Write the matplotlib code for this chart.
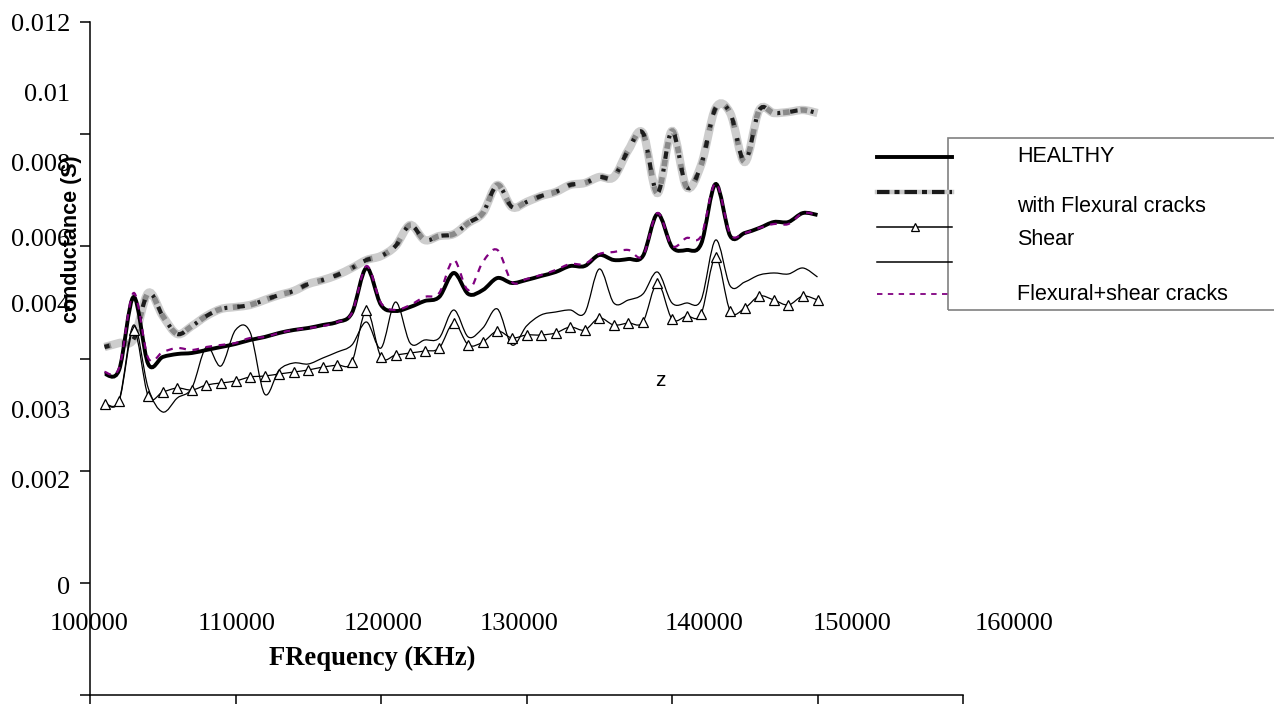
import numpy as np
import matplotlib
matplotlib.use("Agg")
import matplotlib.pyplot as plt
from matplotlib.path import Path
from matplotlib.patches import PathPatch, Rectangle
from matplotlib.lines import Line2D

# frequency samples (Hz), one every 1 kHz
freq = np.arange(101000, 150001, 1000)

healthy = [0.005724, 0.005795, 0.007097, 0.005902, 0.006027, 0.006080, 0.006098, 0.006152, 0.006205, 0.006259,
           0.006330, 0.006383, 0.006455, 0.006508, 0.006544, 0.006597, 0.006651, 0.006811, 0.007614, 0.006954,
           0.006847, 0.006918, 0.007025, 0.007097, 0.007525, 0.007150, 0.007221, 0.007435, 0.007346, 0.007400,
           0.007471, 0.007542, 0.007649, 0.007649, 0.007845, 0.007756, 0.007774, 0.007828, 0.008577, 0.007988,
           0.007935, 0.008042, 0.009111, 0.008184, 0.008238, 0.008327, 0.008434, 0.008434, 0.008594, 0.008559]

flexural = [0.006205, 0.006276, 0.006348, 0.007168, 0.006758, 0.006437, 0.006579, 0.006758, 0.006883, 0.006918,
            0.006954, 0.007043, 0.007132, 0.007204, 0.007328, 0.007400, 0.007489, 0.007614, 0.007756, 0.007828,
            0.008006, 0.008380, 0.008113, 0.008184, 0.008220, 0.008416, 0.008594, 0.009094, 0.008701, 0.008790,
            0.008897, 0.008969, 0.009094, 0.009129, 0.009236, 0.009236, 0.009718, 0.010021, 0.008951, 0.010056,
            0.009058, 0.009450, 0.010467, 0.010377, 0.009504, 0.010431, 0.010377, 0.010395, 0.010431, 0.010377]

tri = [0.005189, 0.005242, 0.006508, 0.005331, 0.005403, 0.005474, 0.005438, 0.005527, 0.005563, 0.005599,
       0.005670, 0.005688, 0.005724, 0.005759, 0.005795, 0.005848, 0.005884, 0.005938, 0.006865, 0.006027,
       0.006062, 0.006098, 0.006134, 0.006187, 0.006633, 0.006241, 0.006294, 0.006490, 0.006366, 0.006419,
       0.006419, 0.006455, 0.006562, 0.006508, 0.006722, 0.006597, 0.006633, 0.006651, 0.007346, 0.006704,
       0.006758, 0.006793, 0.007810, 0.006847, 0.006900, 0.007114, 0.007043, 0.006954, 0.007114, 0.007043]

shear = [0.005207, 0.005260, 0.006597, 0.005474, 0.005046, 0.005296, 0.005474, 0.006205, 0.005866, 0.006508,
         0.006472, 0.005367, 0.005795, 0.005920, 0.005902, 0.006009, 0.006116, 0.006241, 0.006651, 0.006187,
         0.007007, 0.006276, 0.006330, 0.006366, 0.006865, 0.006383, 0.006544, 0.006883, 0.006241, 0.006579,
         0.006776, 0.006829, 0.006865, 0.006811, 0.007596, 0.006990, 0.007043, 0.007150, 0.007542, 0.006990,
         0.006990, 0.007043, 0.008113, 0.007293, 0.007364, 0.007489, 0.007525, 0.007507, 0.007614, 0.007453]

flex_shear = [0.005759, 0.005831, 0.007168, 0.006009, 0.006116, 0.006187, 0.006152, 0.006205, 0.006241, 0.006276,
              0.006366, 0.006383, 0.006455, 0.006508, 0.006544, 0.006579, 0.006651, 0.006811, 0.007649, 0.006990,
              0.006865, 0.006954, 0.007097, 0.007168, 0.007756, 0.007221, 0.007721, 0.007935, 0.007364, 0.007418,
              0.007489, 0.007578, 0.007685, 0.007685, 0.007863, 0.007899, 0.007935, 0.007828, 0.008594, 0.008006,
              0.008149, 0.008184, 0.009129, 0.008220, 0.008238, 0.008327, 0.008398, 0.008398, 0.008594, 0.008559]

ytick_labels = ["0.012", "0.01", "0.008", "0.006", "0.004", "0.003", "0.002", "0"]
xtick_labels = ["100000", "110000", "120000", "130000", "140000", "150000", "160000"]
legend_labels = ["HEALTHY", "with Flexural cracks", "Shear", "Flexural+shear cracks"]

W, H = 1274, 704


def fx(px):
    return px / W


def fy(py):
    return 1 - py / H


def smooth_path(x, y):
    # Excel-like smoothed line drawn as cubic Bezier segments
    x = np.asarray(x, float)
    y = np.asarray(y, float)
    n = len(x)
    verts = [(x[0], y[0])]
    codes = [Path.MOVETO]
    for i in range(n - 1):
        a = i - 1 if i > 0 else i
        b = i + 2 if i + 2 < n else i + 1
        c1 = (x[i] + (x[i + 1] - x[a]) / 6, y[i] + (y[i + 1] - y[a]) / 6)
        c2 = (x[i + 1] - (x[b] - x[i]) / 6, y[i + 1] - (y[b] - y[i]) / 6)
        verts += [c1, c2, (x[i + 1], y[i + 1])]
        codes += [Path.CURVE4] * 3
    return Path(verts, codes)


def add_curve(ax, y, **kw):
    ax.add_patch(PathPatch(smooth_path(freq, y), facecolor="none", **kw))


fig = plt.figure(figsize=(W / 100, H / 100), dpi=100)
ax = fig.add_axes([fx(90), fy(695), (963 - 90) / W, (695 - 22) / H])
ax.set_xlim(100000, 160000)
ax.set_ylim(0, 0.012)
ax.set_xticks(np.arange(100000, 160001, 10000))
ax.set_yticks(np.arange(0, 0.0121, 0.002))
ax.tick_params(direction="out", length=7.5, width=1.1, labelleft=False, labelbottom=False)
for s in ["top", "right"]:
    ax.spines[s].set_visible(False)
for s in ["left", "bottom"]:
    ax.spines[s].set_linewidth(1.1)

# with Flexural cracks: blurred gray / black dash-dot band
add_curve(ax, flexural, edgecolor="#cdcdcd", lw=6, capstyle="butt")
add_curve(ax, flexural, edgecolor="#8a8a8a", lw=4, linestyle=(0, (1.2, 2.0)), capstyle="butt")
add_curve(ax, flexural, edgecolor="#1e1e1e", lw=3, linestyle=(0.6, (1.8, 3.2, 0.7, 2.4)), capstyle="butt")
# thin shear line
add_curve(ax, shear, edgecolor="black", lw=0.9)
# triangle line
add_curve(ax, tri, edgecolor="black", lw=0.9)
ax.plot(freq, tri, linestyle="none", marker="^", ms=7, mfc="white", mec="black", mew=0.9)
# healthy
add_curve(ax, healthy, edgecolor="black", lw=2.8)
# flexural + shear
add_curve(ax, flex_shear, edgecolor="#800080", lw=1.6, linestyle=(0, (3, 3)))

serif = "Liberation Serif"
sans = "Liberation Sans"

# tick labels (placed as in the original)
ylab_pos = [25, 95, 165, 240, 306, 412, 482, 588]
for lab, py in zip(ytick_labels, ylab_pos):
    fig.text(fx(70), fy(py), lab, ha="right", va="center", fontsize=19, family=serif)
xlab_pos = [89, 237, 383, 519, 704, 852, 1014]
for lab, px in zip(xtick_labels, xlab_pos):
    fig.text(fx(px), fy(624), lab, ha="center", va="center", fontsize=19, family=serif)

fig.text(fx(372), fy(658), "FRequency (KHz)", ha="center", va="center", fontsize=19.2,
         family=serif, fontweight="bold")
fig.text(fx(71), fy(239), "conductance (S)", ha="center", va="center", rotation=90,
         fontsize=15.5, family=sans, fontweight="bold")
fig.text(fx(660), fy(381), "z", ha="center", va="center", fontsize=15, family=sans)

# legend drawn by hand: samples sit outside the box
fig.add_artist(Rectangle((fx(948), fy(310)), (1300 - 948) / W, (310 - 138) / H,
                         transform=fig.transFigure, fill=False, edgecolor="#808080", lw=1.2))
lx = [fx(877), fx(952)]
fig.add_artist(Line2D(lx, [fy(157)] * 2, transform=fig.transFigure, color="black", lw=2.8))
fig.add_artist(Line2D(lx, [fy(192)] * 2, transform=fig.transFigure, color="#c8c8c8", lw=3.2))
fig.add_artist(Line2D(lx, [fy(192)] * 2, transform=fig.transFigure, color="#1a1a1a", lw=3.0,
                      linestyle=(0, (3, 1.2, 1.2, 1.2)), solid_capstyle="butt"))
fig.add_artist(Line2D(lx, [fy(227)] * 2, transform=fig.transFigure, color="black", lw=1.1))
fig.add_artist(Line2D([fx(915)], [fy(227)], transform=fig.transFigure, linestyle="none",
                      marker="^", ms=5.5, mfc="white", mec="black", mew=0.9))
fig.add_artist(Line2D(lx, [fy(262)] * 2, transform=fig.transFigure, color="black", lw=1.1))
fig.add_artist(Line2D(lx, [fy(294)] * 2, transform=fig.transFigure, color="#800080", lw=1.3,
                      linestyle=(0, (3, 3))))
for lab, py in zip(legend_labels, [157, 207, 240, 294]):
    fig.text(fx(1017), fy(py), lab, ha="left", va="center", fontsize=15.5, family=sans)

fig.savefig("out.png", dpi=100)
